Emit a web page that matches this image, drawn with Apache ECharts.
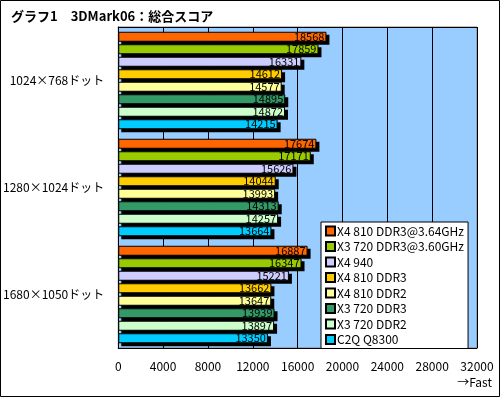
<!DOCTYPE html>
<html>
<head>
<meta charset="utf-8">
<script src="https://cdn.jsdelivr.net/npm/echarts@6/dist/echarts.min.js"></script>
<style>
  body { margin: 0; background: #fff; }
  #chart { width: 500px; height: 397px; }
</style>
</head>
<body>
<div id="chart"></div>
<script>
// 解像度ごとのカテゴリ
var categories = ['1024×768ドット', '1280×1024ドット', '1680×1050ドット'];
// 系列名
var seriesNames = ['X4 810 DDR3@3.64GHz', 'X3 720 DDR3@3.60GHz', 'X4 940', 'X4 810 DDR3',
    'X4 810 DDR2', 'X3 720 DDR3', 'X3 720 DDR2', 'C2Q Q8300'];
var seriesColors = ['#ff6600', '#99cc00', '#ccccff', '#ffcc00', '#ffff99', '#339966', '#ccffcc', '#00ccff'];
// スコア (カテゴリ順)
var x4_810_364 = [18568, 17674, 16887];
var x3_720_360 = [17859, 17171, 16347];
var x4_940 = [16331, 15626, 15221];
var x4_810_ddr3 = [14612, 14044, 13662];
var x4_810_ddr2 = [14577, 13993, 13647];
var x3_720_ddr3 = [14895, 14313, 13939];
var x3_720_ddr2 = [14872, 14257, 13897];
var c2q_q8300 = [14215, 13664, 13350];
var seriesData = [x4_810_364, x3_720_360, x4_940, x4_810_ddr3, x4_810_ddr2, x3_720_ddr3, x3_720_ddr2, c2q_q8300];

var font = '"Noto Sans CJK JP", sans-serif';
var barW = 10;
var barGapRatio = 0.25;

var series = [];
var shadowRows = [];
for (var i = 0; i < seriesNames.length; i++) {
    series.push({
        name: seriesNames[i],
        type: 'bar',
        z: 3,
        data: seriesData[i],
        barWidth: barW,
        barGap: (barGapRatio * 100) + '%',
        itemStyle: {
            color: seriesColors[i],
            borderColor: '#000',
            borderWidth: 1
        },
        label: {
            show: true,
            position: 'insideRight',
            distance: 2,
            color: '#000',
            fontSize: 11,
            fontFamily: font
        }
    });
    for (var c = 0; c < categories.length; c++) {
        shadowRows.push([seriesData[i][c], c, i]);
    }
}

// 棒の影 (黒、右下にずらす)
series.push({
    type: 'custom',
    z: 2,
    silent: true,
    data: shadowRows,
    encode: { x: 0, y: 1 },
    renderItem: function (params, api) {
        var end = api.coord([api.value(0), api.value(1)]);
        var start = api.coord([0, api.value(1)]);
        var n = seriesNames.length;
        var slot = barW * (1 + barGapRatio);
        var center = end[1] + (api.value(2) - (n - 1) / 2) * slot;
        return {
            type: 'rect',
            shape: { x: start[0] + 3, y: center - barW / 2 + 3, width: end[0] - start[0], height: barW },
            style: { fill: '#000' }
        };
    }
});

var chart = echarts.init(document.getElementById('chart'));
var option = {
    animation: false,
    backgroundColor: '#fff',
    title: {
        text: 'グラフ1　3DMark06：総合スコア',
        left: 6,
        top: 5,
        textStyle: { fontSize: 13, fontWeight: 'bold', color: '#000', fontFamily: font }
    },
    grid: {
        left: 114, right: 23, top: 27, bottom: 49,
        show: true,
        backgroundColor: '#99ccff',
        borderColor: '#808080',
        borderWidth: 1
    },
    legend: {
        orient: 'vertical',
        left: 321,
        top: 222,
        width: 154,
        backgroundColor: '#fff',
        borderColor: '#000',
        borderWidth: 1,
        padding: [3, 4, 3, 4],
        itemGap: 3.5,
        itemWidth: 9,
        itemHeight: 9,
        icon: 'rect',
        textStyle: { fontSize: 12, color: '#000', fontFamily: font, padding: [0, 0, 0, -3] },
        data: seriesNames
    },
    xAxis: [{
        type: 'value',
        min: 0,
        max: 32000,
        interval: 4000,
        axisLine: { show: true, lineStyle: { color: '#000' } },
        axisTick: { show: false },
        splitLine: { lineStyle: { color: '#000', width: 1 } },
        axisLabel: {
            color: '#000', fontSize: 12, margin: 12, fontFamily: font,
            formatter: function (v) { return String(v); }
        }
    }, {
        type: 'value',
        position: 'top',
        min: 0,
        max: 32000,
        interval: 4000,
        axisLine: { show: true, lineStyle: { color: '#000' } },
        axisTick: { show: false },
        axisLabel: { show: false },
        splitLine: { show: false }
    }],
    yAxis: {
        type: 'category',
        data: categories,
        inverse: true,
        axisLine: { lineStyle: { color: '#000' } },
        axisTick: { inside: true, length: 4, lineStyle: { color: '#000' } },
        axisLabel: { color: '#000', fontSize: 12, margin: 14, fontFamily: font }
    },
    graphic: [
        {
            type: 'text',
            right: 8,
            top: 376,
            style: { text: '→Fast', fill: '#000', font: '12px ' + font }
        },
        {
            type: 'rect',
            shape: { x: 0.5, y: 0.5, width: 499, height: 396 },
            style: { fill: 'none', stroke: '#000', lineWidth: 1 },
            silent: true
        }
    ],
    series: series
};
chart.setOption(option);
</script>
</body>
</html>
